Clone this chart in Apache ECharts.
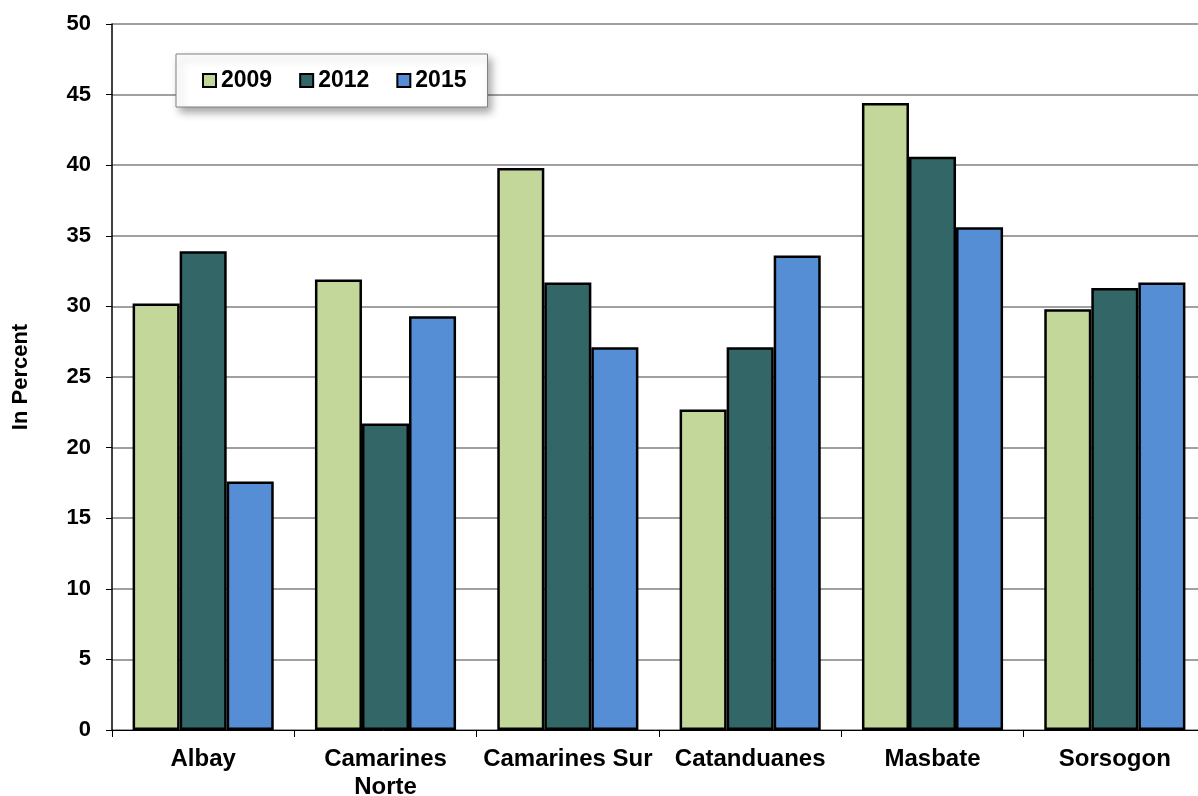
<!DOCTYPE html>
<html>
<head>
<meta charset="utf-8">
<script src="https://cdn.jsdelivr.net/npm/echarts@6/dist/echarts.min.js"></script>
<style>
html,body{margin:0;padding:0;background:#fff;}
#chart{width:1198px;height:796px;}
</style>
</head>
<body>
<div id="chart"></div>
<script>
const categories = ['Albay', 'Camarines\nNorte', 'Camarines Sur', 'Catanduanes', 'Masbate', 'Sorsogon'];
const seriesNames = ['2009', '2012', '2015'];
const values2009 = [30.2, 31.9, 39.8, 22.7, 44.4, 29.8];
const values2012 = [33.9, 21.7, 31.7, 27.1, 40.6, 31.3];
const values2015 = [17.6, 29.3, 27.1, 33.6, 35.6, 31.7];
const colors = ['#C4D79B', '#336666', '#558ED5'];

const FONT = 'Liberation Sans, Arial, sans-serif';
const chart = echarts.init(document.getElementById('chart'));
const allValues = [values2009, values2012, values2015];

chart.setOption({
  animation: false,
  backgroundColor: '#ffffff',
  textStyle: { fontFamily: FONT },
  grid: { left: 112, right: -8, top: 24, bottom: 66, containLabel: false, outerBoundsMode: 'none' },
  legend: {
    left: 176, top: 54,
    icon: 'rect',
    itemWidth: 13, itemHeight: 13, itemGap: 27,
    padding: [15, 21, 15, 26],
    backgroundColor: '#ffffff',
    borderColor: '#808080', borderWidth: 1,
    shadowBlur: 8, shadowColor: 'rgba(0,0,0,0.35)', shadowOffsetX: 4, shadowOffsetY: 5,
    textStyle: { fontFamily: FONT, fontWeight: 'bold', fontSize: 23, color: '#000' },
    data: seriesNames
  },
  xAxis: {
    type: 'category',
    data: categories,
    axisLine: { lineStyle: { color: '#000', width: 1 } },
    axisTick: { show: true, length: 7, lineStyle: { color: '#000' } },
    axisLabel: {
      interval: 0, margin: 15, fontFamily: FONT, fontWeight: 'bold', fontSize: 24,
      lineHeight: 28, color: '#000'
    }
  },
  yAxis: {
    type: 'value', min: 0, max: 50, interval: 5,
    name: 'In Percent', nameLocation: 'middle', nameGap: 80, nameRotate: 90,
    nameTextStyle: { fontFamily: FONT, fontWeight: 'bold', fontSize: 22, color: '#000' },
    axisLine: { show: true, lineStyle: { color: '#000', width: 1.5 } },
    axisTick: { show: true, length: 6, lineStyle: { color: '#000' } },
    axisLabel: { margin: 21, fontFamily: FONT, fontWeight: 'bold', fontSize: 22, color: '#000' },
    splitLine: { show: true, lineStyle: { color: '#808080', width: 1.5 } }
  },
  series: seriesNames.map((n, i) => ({
    name: n,
    type: 'bar',
    data: allValues[i],
    barGap: '0%',
    barCategoryGap: '22.6%',
    itemStyle: { color: colors[i], borderColor: '#000', borderWidth: 2.5 }
  }))
});
</script>
</body>
</html>
